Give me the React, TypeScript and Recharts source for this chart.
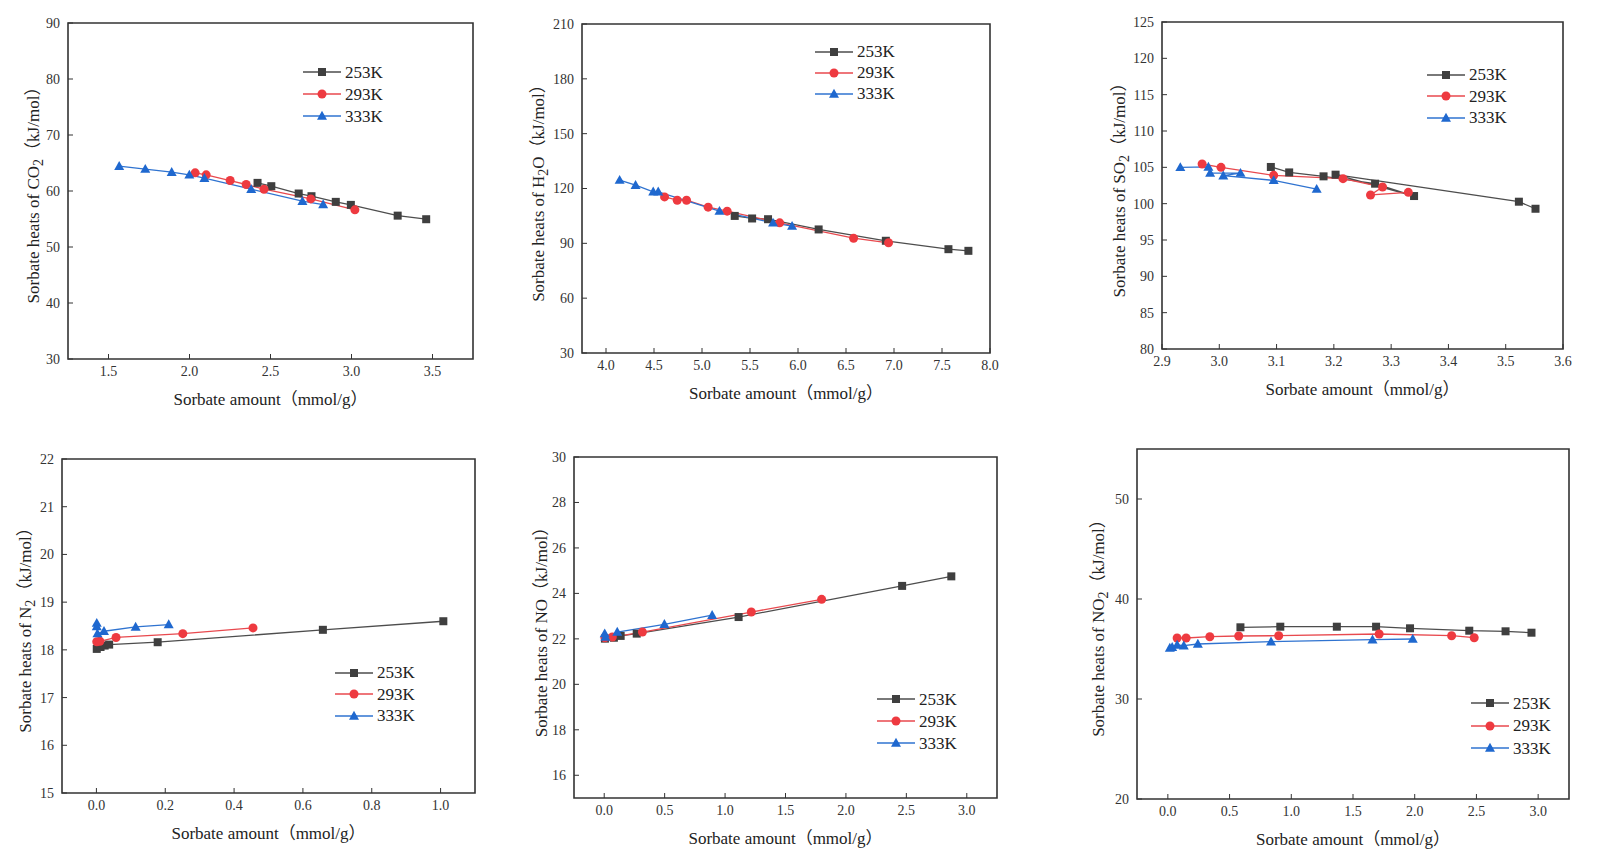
import React from "react";
import { LineChart, Line, XAxis, YAxis, ReferenceArea, Legend } from "recharts";

type Pt = [number, number];

// CO2 panel
const co2K253: Pt[] = [[2.42, 61.45], [2.505, 60.86], [2.674, 59.55], [2.753, 59.07], [2.903, 58.06], [2.996, 57.52], [3.285, 55.6], [3.461, 54.96]];
const co2K293: Pt[] = [[2.035, 63.24], [2.103, 62.88], [2.251, 61.87], [2.35, 61.16], [2.46, 60.32], [2.749, 58.59], [3.021, 56.63]];
const co2K333: Pt[] = [[1.566, 64.43], [1.727, 63.9], [1.89, 63.36], [1.999, 62.88], [2.092, 62.29], [2.381, 60.32], [2.697, 58.18], [2.825, 57.58]];
const co2XTicks = [1.5, 2.0, 2.5, 3.0, 3.5];
const co2YTicks = [30, 40, 50, 60, 70, 80, 90];

// H2O panel
const h2oK253: Pt[] = [[5.341, 105.0], [5.522, 103.6], [5.688, 103.2], [6.215, 97.6], [6.915, 91.4], [7.567, 86.8], [7.775, 85.9]];
const h2oK293: Pt[] = [[4.61, 115.4], [4.742, 113.6], [4.839, 113.6], [5.064, 109.8], [5.262, 107.6], [5.809, 101.2], [6.579, 92.8], [6.943, 90.3]];
const h2oK333: Pt[] = [[4.142, 124.6], [4.308, 121.8], [4.492, 118.2], [4.544, 118.2], [5.182, 107.6], [5.74, 101.2], [5.938, 99.4]];
const h2oXTicks = [4.0, 4.5, 5.0, 5.5, 6.0, 6.5, 7.0, 7.5, 8.0];
const h2oYTicks = [30, 60, 90, 120, 150, 180, 210];

// SO2 panel
const so2K253: Pt[] = [[3.09, 105.05], [3.122, 104.3], [3.182, 103.76], [3.272, 102.75], [3.34, 101.05], [3.203, 103.99], [3.523, 100.27], [3.552, 99.3]];
const so2K293: Pt[] = [[2.97, 105.46], [3.003, 105.0], [3.095, 103.9], [3.216, 103.44], [3.285, 102.29], [3.264, 101.19], [3.33, 101.56]];
const so2K333: Pt[] = [[2.932, 105.0], [2.981, 105.05], [2.984, 104.2], [3.037, 104.2], [3.007, 103.85], [3.095, 103.2], [3.17, 102.0]];
const so2XTicks = [2.9, 3.0, 3.1, 3.2, 3.3, 3.4, 3.5, 3.6];
const so2YTicks = [80, 85, 90, 95, 100, 105, 110, 115, 120, 125];

// N2 panel
const n2K253: Pt[] = [[0.001, 18.02], [0.012, 18.06], [0.024, 18.09], [0.037, 18.11], [0.178, 18.16], [0.658, 18.42], [1.008, 18.6]];
const n2K293: Pt[] = [[0.001, 18.17], [0.01, 18.18], [0.057, 18.26], [0.251, 18.34], [0.455, 18.46]];
const n2K333: Pt[] = [[0.001, 18.56], [0.001, 18.49], [0.003, 18.34], [0.022, 18.39], [0.114, 18.48], [0.21, 18.53]];
const n2XTicks = [0.0, 0.2, 0.4, 0.6, 0.8, 1.0];
const n2YTicks = [15, 16, 17, 18, 19, 20, 21, 22];

// NO panel
const noK253: Pt[] = [[0.006, 22.01], [0.08, 22.05], [0.136, 22.13], [0.269, 22.23], [1.112, 22.96], [2.465, 24.33], [2.872, 24.75]];
const noK293: Pt[] = [[0.006, 22.05], [0.067, 22.08], [0.316, 22.3], [1.217, 23.18], [1.799, 23.74]];
const noK333: Pt[] = [[0.004, 22.23], [0.01, 22.08], [0.108, 22.3], [0.498, 22.64], [0.893, 23.04]];
const noXTicks = [0.0, 0.5, 1.0, 1.5, 2.0, 2.5, 3.0];
const noYTicks = [16, 18, 20, 22, 24, 26, 28, 30];

// NO2 panel
const no2K253: Pt[] = [[0.588, 37.17], [0.911, 37.23], [1.369, 37.23], [1.687, 37.23], [1.962, 37.07], [2.442, 36.83], [2.736, 36.77], [2.946, 36.63]];
const no2K293: Pt[] = [[0.075, 36.1], [0.148, 36.1], [0.34, 36.23], [0.574, 36.3], [0.898, 36.33], [1.712, 36.5], [2.299, 36.33], [2.482, 36.13]];
const no2K333: Pt[] = [[0.016, 35.1], [0.035, 35.17], [0.075, 35.4], [0.129, 35.33], [0.243, 35.5], [0.836, 35.73], [1.658, 35.93], [1.984, 36.0]];
const no2XTicks = [0.0, 0.5, 1.0, 1.5, 2.0, 2.5, 3.0];
const no2YTicks = [20, 30, 40, 50];

const temps = ["253K", "293K", "333K"];

const SERIF = "'Liberation Serif', 'Times New Roman', 'Noto Sans CJK SC', serif";

type Shape = "square" | "circle" | "triangle";
const styles: { shape: Shape; fill: string; line: string }[] = [
  { shape: "square", fill: "#3f3f3f", line: "#4d4d4d" },
  { shape: "circle", fill: "#ee3a40", line: "#e8494e" },
  { shape: "triangle", fill: "#1f68cf", line: "#2f73d0" },
];

function Marker({ shape, cx, cy, fill }: { shape: Shape; cx: number; cy: number; fill: string }) {
  if (shape === "square") return <rect x={cx - 4} y={cy - 4} width={8} height={8} fill={fill} />;
  if (shape === "circle") return <circle cx={cx} cy={cy} r={4.5} fill={fill} />;
  return <path d={`M${cx},${cy - 5.2} L${cx + 5},${cy + 3.7} L${cx - 5},${cy + 3.7} Z`} fill={fill} />;
}

function LegendBox({ rowGap }: { rowGap: number }) {
  return (
    <div style={{ fontFamily: SERIF, fontSize: 17, color: "#222", lineHeight: 1 }}>
      {temps.map((t, i) => (
        <div key={t} style={{ display: "flex", alignItems: "center", height: rowGap }}>
          <svg width={38} height={12} style={{ display: "block" }}>
            <line x1={0} x2={38} y1={6} y2={6} stroke={styles[i].line} strokeWidth={1.3} />
            <Marker shape={styles[i].shape} cx={19} cy={6} fill={styles[i].fill} />
          </svg>
          <span style={{ marginLeft: 4 }}>{t}</span>
        </div>
      ))}
    </div>
  );
}

interface PanelDef {
  id: string;
  gas: React.ReactNode;
  series: Pt[][];
  xDomain: [number, number];
  yDomain: [number, number];
  xTicks: number[];
  yTicks: number[];
  // plot rectangle on the page: left, top, right, bottom
  plot: [number, number, number, number];
  legendAt: [number, number];
  rowGap: number;
  titleGap: number; // distance from plot left edge to y-title centre
}

const panels: PanelDef[] = [
  {
    id: "co2", gas: <>CO<sub>2</sub></>, series: [co2K253, co2K293, co2K333],
    xDomain: [1.25, 3.75], yDomain: [30, 90], xTicks: co2XTicks, yTicks: co2YTicks,
    plot: [68, 23, 473, 359], legendAt: [303, 61], rowGap: 22, titleGap: 35,
  },
  {
    id: "h2o", gas: <>H<sub>2</sub>O</>, series: [h2oK253, h2oK293, h2oK333],
    xDomain: [3.75, 8.0], yDomain: [30, 210], xTicks: h2oXTicks, yTicks: h2oYTicks,
    plot: [582, 24, 990, 353], legendAt: [815, 41], rowGap: 21, titleGap: 44,
  },
  {
    id: "so2", gas: <>SO<sub>2</sub></>, series: [so2K253, so2K293, so2K333],
    xDomain: [2.9, 3.6], yDomain: [80, 125], xTicks: so2XTicks, yTicks: so2YTicks,
    plot: [1162, 22, 1563, 349], legendAt: [1427, 64], rowGap: 21.5, titleGap: 43,
  },
  {
    id: "n2", gas: <>N<sub>2</sub></>, series: [n2K253, n2K293, n2K333],
    xDomain: [-0.1, 1.1], yDomain: [15, 22], xTicks: n2XTicks, yTicks: n2YTicks,
    plot: [62, 459, 475, 793], legendAt: [335, 662], rowGap: 21.5, titleGap: 37,
  },
  {
    id: "no", gas: <>NO</>, series: [noK253, noK293, noK333],
    xDomain: [-0.25, 3.25], yDomain: [15, 30], xTicks: noXTicks, yTicks: noYTicks,
    plot: [574, 457, 997, 798], legendAt: [877, 688], rowGap: 22, titleGap: 35,
  },
  {
    id: "no2", gas: <>NO<sub>2</sub></>, series: [no2K253, no2K293, no2K333],
    xDomain: [-0.25, 3.25], yDomain: [20, 55], xTicks: no2XTicks, yTicks: no2YTicks,
    plot: [1137, 449, 1569, 799], legendAt: [1471, 692], rowGap: 22.5, titleGap: 39,
  },
];

const PAD = { left: 70, top: 25, right: 15, bottom: 60 };
// axes take 1px each, so the margin is shrunk by that much
const MARGIN = { left: PAD.left - 1, top: PAD.top, right: PAD.right, bottom: PAD.bottom - 1 };
const tickStyle = { fontSize: 14, fill: "#333", fontFamily: SERIF };

function Panel({ p }: { p: PanelDef }) {
  const [l, t, r, b] = p.plot;
  const boxLeft = l - PAD.left;
  const boxTop = t - PAD.top;
  const width = r - l + PAD.left + PAD.right;
  const height = b - t + PAD.top + PAD.bottom;
  return (
    <div style={{ position: "absolute", left: boxLeft, top: boxTop, width, height }}>
      <LineChart width={width} height={height} margin={MARGIN}>
        <XAxis
          type="number"
          dataKey="x"
          domain={p.xDomain}
          ticks={p.xTicks}
          allowDataOverflow
          height={1}
          axisLine={false}
          tickSize={-5}
          tickMargin={12}
          tickLine={{ stroke: "#333" }}
          tick={tickStyle}
          tickFormatter={(v: number) => v.toFixed(1)}
        />
        <YAxis
          type="number"
          dataKey="y"
          domain={p.yDomain}
          ticks={p.yTicks}
          allowDataOverflow
          width={1}
          axisLine={false}
          tickSize={-5}
          tickMargin={13}
          tickLine={{ stroke: "#333" }}
          tick={tickStyle}
          tickFormatter={(v: number) => String(v)}
        />
        <ReferenceArea
          x1={p.xDomain[0]}
          x2={p.xDomain[1]}
          y1={p.yDomain[0]}
          y2={p.yDomain[1]}
          fill="none"
          fillOpacity={0}
          stroke="#333"
          strokeWidth={1.6}
        />
        {p.series.map((pts, i) => (
          <Line
            key={temps[i]}
            name={temps[i]}
            data={pts.map(([x, y]) => ({ x, y }))}
            dataKey="y"
            type="linear"
            stroke={styles[i].line}
            strokeWidth={1.3}
            isAnimationActive={false}
            activeDot={false}
            dot={(d: any) => (
              <Marker key={`${temps[i]}-${d.index}`} shape={styles[i].shape} cx={d.cx} cy={d.cy} fill={styles[i].fill} />
            )}
          />
        ))}
        <Legend
          layout="vertical"
          align="center"
          verticalAlign="middle"
          wrapperStyle={{ left: p.legendAt[0] - boxLeft, top: p.legendAt[1] - boxTop, width: "auto" }}
          content={() => <LegendBox rowGap={p.rowGap} />}
        />
      </LineChart>
      <div
        style={{
          position: "absolute",
          left: PAD.left + (r - l) / 2,
          top: PAD.top + (b - t) + 38,
          transform: "translate(-50%, -50%)",
          whiteSpace: "nowrap",
          fontFamily: SERIF,
          fontSize: 17,
          color: "#222",
        }}
      >
        Sorbate amount（mmol/g）
      </div>
      <div
        style={{
          position: "absolute",
          left: PAD.left - p.titleGap,
          top: PAD.top + (b - t) / 2,
          transform: "translate(-50%, -50%) rotate(-90deg)",
          whiteSpace: "nowrap",
          fontFamily: SERIF,
          fontSize: 17,
          color: "#222",
        }}
      >
        Sorbate heats of {p.gas}（kJ/mol）
      </div>
    </div>
  );
}

export default function App() {
  return (
    <div style={{ position: "fixed", left: 0, top: 0, width: 1597, height: 862, background: "#fff", overflow: "hidden" }}>
      {panels.map((p) => (
        <Panel key={p.id} p={p} />
      ))}
    </div>
  );
}
